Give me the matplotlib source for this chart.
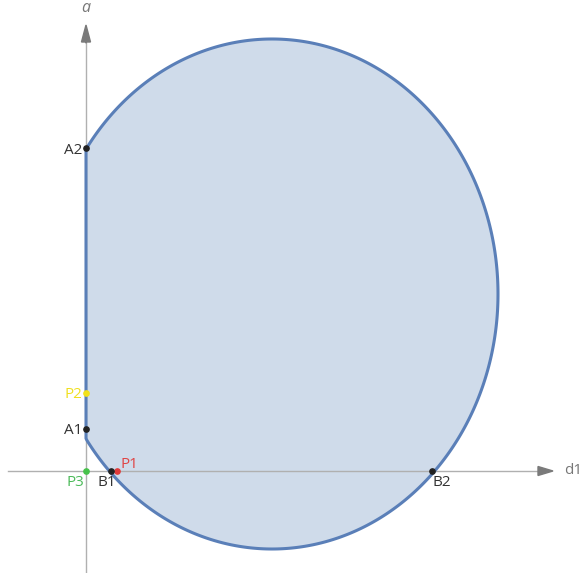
"""
Região viável no plano (d1, a): elipse cortada em d1 >= 0, com pontos marcados.
"""

import matplotlib.pyplot as plt
import numpy as np
from matplotlib.patches import FancyArrow

plt.rcParams["font.family"] = ["Open Sans", "DejaVu Sans"]

# elipse da região (unidades do gráfico)
CENTRO = (186.0, 177.0)
SEMI_EIXOS = (226.0, 255.0)

# pontos marcados
nomes = ["A1", "A2", "P2", "P1", "P3", "B1", "B2"]
pontos_d1 = [0, 0, 0, 31, 0, 25, 346]
pontos_a = [42, 323, 78, 0, 0, 0, 0]
cores = ["#222222", "#222222", "#f2e21a", "#e03a3a", "#46c24a", "#222222", "#222222"]
cores_texto = ["#333333", "#333333", "#f0e020", "#e04545", "#4cbb5a", "#333333", "#333333"]
# deslocamento do rótulo (pixels) e alinhamento
desloc = [(-4, -2), (-4, -2), (-4, -2), (3, 7), (-2, -12), (-4, -12), (0, -12)]
alinh = ["right", "right", "right", "left", "right", "center", "left"]

fig = plt.figure(figsize=(5.82, 5.73), dpi=100)
ax = fig.add_axes([0, 0, 1, 1])
ax.set_xlim(-86, 496)
ax.set_ylim(-102, 471)
ax.set_aspect("equal")
ax.axis("off")

# contorno da região
t = np.linspace(0, 2 * np.pi, 720, endpoint=False)
x = CENTRO[0] + SEMI_EIXOS[0] * np.cos(t)
y = CENTRO[1] + SEMI_EIXOS[1] * np.sin(t)
x = np.maximum(x, 0)
ax.fill(x, y, color="#cfdbea", zorder=1, lw=0)

# eixos
cinza = "#b0b0b0"
ax.plot([-78, 455], [0, 0], color=cinza, lw=1, zorder=2)
ax.plot([0, 0], [-102, 430], color=cinza, lw=1, zorder=2)
ax.add_patch(FancyArrow(452, 0, 15, 0, width=0.1, head_width=9, head_length=15,
                        length_includes_head=True, color="#7a7a7a", zorder=3))
ax.add_patch(FancyArrow(0, 428, 0, 18, width=0.1, head_width=9, head_length=17,
                        length_includes_head=True, color="#7a7a7a", zorder=3))
ax.text(0, 463, "a", fontsize=11.5, style="italic", color="#777777",
        ha="center", va="center")
ax.text(478, 0, "d1", fontsize=11, color="#777777", ha="left", va="center")

# borda como polígono fechado (sem emenda)
ax.fill(x, y, facecolor="none", edgecolor="#5a7fb8", lw=2.2, zorder=4,
        joinstyle="round")

for nome, px, py, c, ct, (dx, dy), ha in zip(nomes, pontos_d1, pontos_a, cores,
                                              cores_texto, desloc, alinh):
    ax.plot(px, py, "o", ms=3.8, color=c, zorder=5)
    ax.annotate(nome, (px, py), xytext=(dx, dy), textcoords="offset pixels",
                ha=ha, va="center", fontsize=11, color=ct, zorder=6)

fig.savefig("out.png", dpi=100)
